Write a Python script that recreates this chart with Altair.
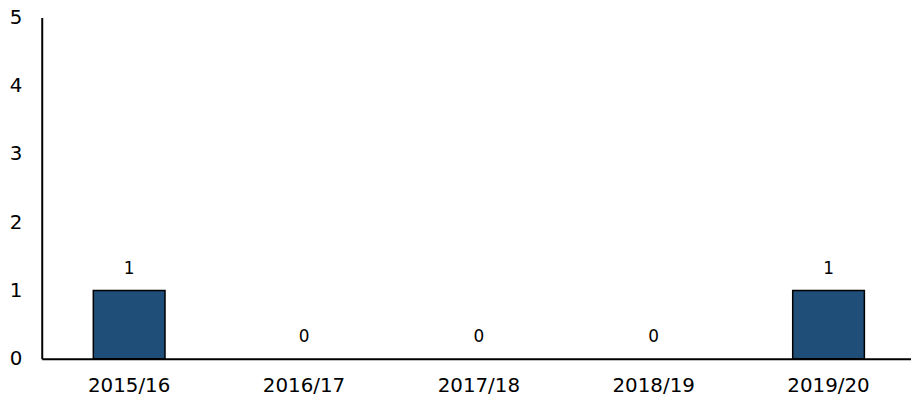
import altair as alt
import pandas as pd

years = ["2015/16", "2016/17", "2017/18", "2018/19", "2019/20"]
counts = [1, 0, 0, 0, 1]

df = pd.DataFrame({"year": years, "count": counts})

FONT = "DejaVu Sans"

x = alt.X("year:N", sort=years, title=None,
          scale=alt.Scale(paddingInner=0.59, paddingOuter=0.295),
          axis=alt.Axis(labelAngle=0, labelFont=FONT, labelFontSize=20,
                        labelColor="#000000", ticks=False, domainColor="#000000",
                        domainWidth=2, labelPadding=17))
y = alt.Y("count:Q", title=None,
          scale=alt.Scale(domain=[0, 5]),
          axis=alt.Axis(values=[0, 1, 2, 3, 4, 5], format="d", labelFont=FONT, labelFontSize=20,
                        labelColor="#000000", ticks=False, grid=False, domainColor="#000000",
                        domainWidth=2, labelPadding=20))

bars = alt.Chart(df).mark_bar(color="#1F4E79", stroke="#000000", strokeWidth=1.5).encode(
    x=x, y=y,
    strokeOpacity=alt.condition("datum.count > 0", alt.value(1), alt.value(0)),
)
labels = alt.Chart(df).mark_text(baseline="bottom", dy=-13, font=FONT,
                                 fontSize=17, color="#000000").encode(
    x=alt.X("year:N", sort=years), y=alt.Y("count:Q"), text="count:Q")

chart = (bars + labels).properties(
    width=881, height=344,
    autosize=alt.AutoSizeParams(type="none"),
    padding={"left": 34, "top": 8, "right": -5, "bottom": 40},
).configure_view(stroke=None)

chart.save("out.html", embed_options={"renderer": "svg", "actions": False})
